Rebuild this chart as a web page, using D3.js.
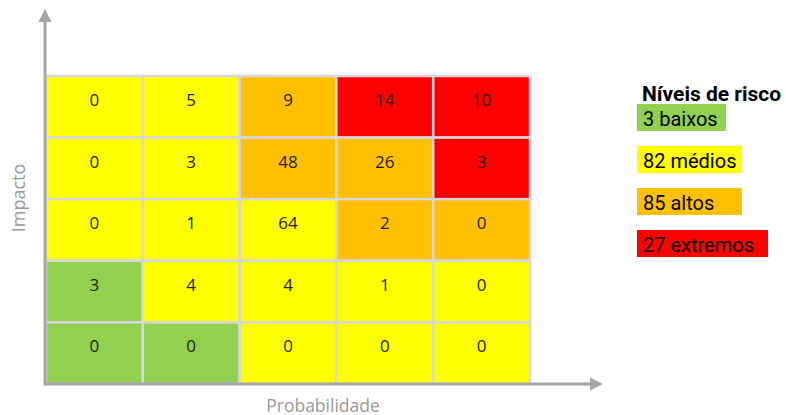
<!DOCTYPE html>
<html>
<head>
<meta charset="utf-8">
<script src="https://cdn.jsdelivr.net/npm/d3@7"></script>
<style>
  body { margin: 0; background: #fff; }
  svg { display: block; }
</style>
</head>
<body>
<div class="chart"></div>
<script>
// probability columns (left -> right) and impact rows (top -> bottom)
var probabilidades = [1, 2, 3, 4, 5];
var impactos = [5, 4, 3, 2, 1];

var contagens = [
  [0, 5, 9, 14, 10],
  [0, 3, 48, 26, 3],
  [0, 1, 64, 2, 0],
  [3, 4, 4, 1, 0],
  [0, 0, 0, 0, 0]
];

// b = baixo, m = médio, a = alto, e = extremo
var niveis = [
  ["m", "m", "a", "e", "e"],
  ["m", "m", "a", "a", "e"],
  ["m", "m", "m", "a", "a"],
  ["b", "m", "m", "m", "m"],
  ["b", "b", "m", "m", "m"]
];

var nivelKeys = ["b", "m", "a", "e"];
var nivelNomes = ["baixos", "médios", "altos", "extremos"];
var nivelCores = ["#92d050", "#ffff00", "#ffc000", "#ff0000"];

var width = 786,
    height = 415;

var color = d3.scaleOrdinal().domain(nivelKeys).range(nivelCores);

var x = d3.scaleBand().domain(probabilidades).range([46, 530]);
var y = d3.scaleBand().domain(impactos).range([76, 384]);

var svg = d3.select(".chart").append("svg")
    .attr("width", width)
    .attr("height", height);

var defs = svg.append("defs");
defs.append("marker")
    .attr("id", "seta")
    .attr("viewBox", "0 0 10 10")
    .attr("refX", 1)
    .attr("refY", 5)
    .attr("markerWidth", 4.5)
    .attr("markerHeight", 4.5)
    .attr("orient", "auto")
  .append("path")
    .attr("d", "M0,0L10,5L0,10Z")
    .attr("fill", "#a6a6a6");

var cells = [];
contagens.forEach(function(row, i) {
  row.forEach(function(v, j) {
    cells.push({ p: probabilidades[j], imp: impactos[i], v: v, n: niveis[i][j] });
  });
});

svg.append("g")
    .selectAll("rect")
    .data(cells)
    .enter()
    .append("rect")
    .attr("x", function(d) { return x(d.p); })
    .attr("y", function(d) { return y(d.imp); })
    .attr("width", x.bandwidth())
    .attr("height", y.bandwidth())
    .attr("fill", function(d) { return color(d.n); })
    .attr("stroke", "#d6d6de")
    .attr("stroke-width", 2.5);

svg.append("g")
    .selectAll("text")
    .data(cells)
    .enter()
    .append("text")
    .attr("x", function(d) { return x(d.p) + x.bandwidth() / 2; })
    .attr("y", function(d) { return y(d.imp) + y.bandwidth() * 0.39; })
    .attr("dy", "0.35em")
    .attr("text-anchor", "middle")
    .attr("font-family", "'Open Sans', sans-serif")
    .attr("font-size", "17px")
    .attr("fill", "#1e1e10")
    .text(function(d) { return d.v; });

// axes with arrows
svg.append("line")
    .attr("x1", 45).attr("y1", 385)
    .attr("x2", 45).attr("y2", 21)
    .attr("stroke", "#a6a6a6")
    .attr("stroke-width", 3)
    .attr("marker-end", "url(#seta)");

svg.append("line")
    .attr("x1", 44).attr("y1", 384)
    .attr("x2", 591).attr("y2", 384)
    .attr("stroke", "#a6a6a6")
    .attr("stroke-width", 3)
    .attr("marker-end", "url(#seta)");

svg.append("text")
    .attr("transform", "translate(25,198) rotate(-90)")
    .attr("text-anchor", "middle")
    .attr("font-family", "'Open Sans', sans-serif")
    .attr("font-size", "18px")
    .attr("fill", "#9a9a9a")
    .text("Impacto");

svg.append("text")
    .attr("x", 323)
    .attr("y", 412)
    .attr("text-anchor", "middle")
    .attr("font-family", "'Open Sans', sans-serif")
    .attr("font-size", "17.5px")
    .attr("fill", "#9a9a9a")
    .text("Probabilidade");

// legend
var totais = nivelKeys.map(function(k) {
  return d3.sum(cells.filter(function(c) { return c.n === k; }), function(c) { return c.v; });
});

var legend = svg.append("g")
    .attr("font-family", "Roboto, sans-serif");

legend.append("text")
    .attr("x", 642)
    .attr("y", 101)
    .attr("font-size", "21px")
    .attr("font-weight", "bold")
    .attr("fill", "#000")
    .text("Níveis de risco");

var ly = d3.scaleBand().domain(nivelKeys).range([104, 272]);

var items = legend.selectAll("g.item")
    .data(nivelKeys)
    .enter()
    .append("g")
    .attr("class", "item");

items.append("text")
    .attr("x", 643)
    .attr("y", function(d) { return ly(d) + 14.5; })
    .attr("dy", "0.35em")
    .attr("font-size", "20px")
    .attr("fill", "#000")
    .text(function(d, i) { return totais[i] + " " + nivelNomes[i]; });

var boxW = [89, 105, 105, 131];
items.insert("rect", "text")
    .attr("x", 637)
    .attr("y", function(d) { return ly(d); })
    .attr("width", function(d, i) { return boxW[i]; })
    .attr("height", 27)
    .attr("fill", function(d) { return color(d); });
</script>
</body>
</html>
